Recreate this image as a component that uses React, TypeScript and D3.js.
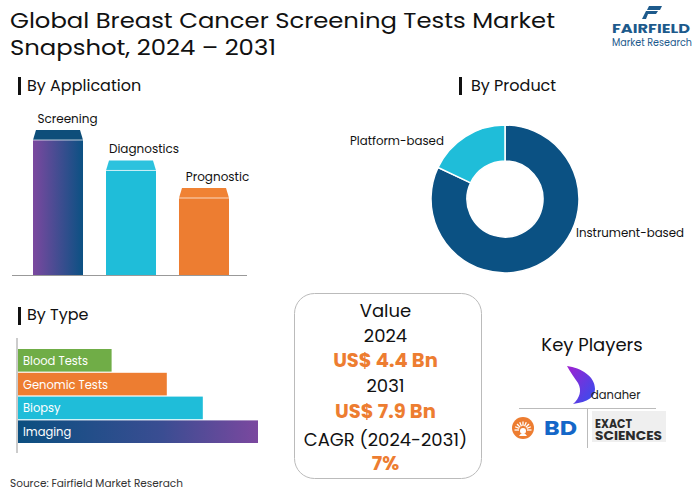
import React from "react";
import * as d3 from "d3";

const appCategories = ["Screening", "Diagnostics", "Prognostic"];
const appValues = [100, 79, 60];
const productCategories = ["Instrument-based", "Platform-based"];
const productValues = [82, 18];
const typeCategories = ["Blood Tests", "Genomic Tests", "Biopsy", "Imaging"];
const typeValues = [39, 62, 77, 100];
const valueLines = ["Value", "2024", "US$ 4.4 Bn", "2031", "US$ 7.9 Bn", "CAGR (2024-2031)", "7%"];

const FONT = "Poppins, 'Open Sans', Lato, sans-serif";
const ORANGE = "#ed7d31";
const CYAN = "#1fbdd9";
const DARK = "#0b5183";
const PURPLE = "#7b489f";
const GREEN = "#70ad47";

export default function App() {
  // Application bars
  const xApp = d3.scaleBand<string>().domain(appCategories).range([33, 229]).paddingInner(0.315).paddingOuter(0);
  const yApp = d3.scaleLinear().domain([0, 100]).range([275, 130]);
  const appFills = ["url(#gradScreen)", CYAN, ORANGE];
  const appCaps = ["#0d4e7a", "#2cc2de", "#f08234"];
  const appLabelShift = [9.5, 13, 13.5];

  // Donut
  const pie = d3.pie<number>().sort(null).value((d) => d);
  const arcs = pie(productValues);
  const arcGen = d3.arc<d3.PieArcDatum<number>>().innerRadius(38).outerRadius(74);
  const cx = 505, cy = 199;
  const donutColors = ["#0b5183", CYAN];

  // Type bars
  const xType = d3.scaleLinear().domain([0, 100]).range([18, 258]);
  const yType = d3.scaleBand<string>().domain(typeCategories).range([349, 443]).paddingInner(0.05);
  const typeFills = [GREEN, ORANGE, CYAN, "url(#gradImaging)"];

  const valueY = [317, 342, 367, 392, 418, 446, 470];
  const valueStyles = [
    { size: 18, weight: 400, color: "#111" },
    { size: 18, weight: 400, color: "#111" },
    { size: 19.5, weight: 700, color: ORANGE },
    { size: 18, weight: 400, color: "#111" },
    { size: 19.5, weight: 700, color: ORANGE },
    { size: 18, weight: 400, color: "#111" },
    { size: 19.5, weight: 700, color: ORANGE },
  ];

  return (
    <div style={{ position: "absolute", left: 0, top: 0 }}>
      <svg width={700} height={491} style={{ display: "block", fontFamily: FONT }}>
        <defs>
          <linearGradient id="gradScreen" x1="0" x2="1" y1="0" y2="0">
            <stop offset="0%" stopColor={PURPLE} />
            <stop offset="100%" stopColor={DARK} />
          </linearGradient>
          <linearGradient id="gradImaging" x1="0" x2="1" y1="0" y2="0">
            <stop offset="0%" stopColor="#0b4f80" />
            <stop offset="60%" stopColor="#3a4d92" />
            <stop offset="100%" stopColor={PURPLE} />
          </linearGradient>
          <linearGradient id="gradDanaher" x1="0" x2="1" y1="0" y2="1">
            <stop offset="0%" stopColor="#a020d0" />
            <stop offset="100%" stopColor="#3050f0" />
          </linearGradient>
        </defs>
        <rect width={700} height={491} fill="#fff" />

        {/* Title */}
        <text x={10} y={28} fontSize={21.5} fill="#111" textLength={545} lengthAdjust="spacingAndGlyphs">Global Breast Cancer Screening Tests Market</text>
        <text x={10} y={55} fontSize={21.5} fill="#111" textLength={266} lengthAdjust="spacingAndGlyphs">Snapshot, 2024 – 2031</text>

        {/* Logo */}
        <g fill="#1d5a8c">
          <path d="M649,6 L662,6 L660,10 L647,10 Z" />
          <path d="M646,11 L658,11 L656,14 L648,14 L646,19 L642,19 Z" />
        </g>
        <text x={612} y={33} fontSize={11.5} fontWeight={700} fill="#1d5a8c" textLength={78} lengthAdjust="spacingAndGlyphs">FAIRFIELD</text>
        <text x={612} y={46} fontSize={10} fill="#1d5a8c" textLength={80} lengthAdjust="spacingAndGlyphs">Market Research</text>

        {/* By Application */}
        <rect x={18} y={77} width={3} height={18} fill="#111" />
        <text x={27} y={91} fontSize={16} fill="#111">By Application</text>
        {appCategories.map((c, i) => {
          const x = xApp(c)!;
          const w = xApp.bandwidth();
          const top = yApp(appValues[i]);
          const capH = 10;
          return (
            <g key={c}>
              <rect x={x} y={top + capH} width={w} height={275 - top - capH} fill={appFills[i]} />
              <path d={`M${x + 3},${top} L${x + w - 3},${top} L${x + w},${top + capH} L${x},${top + capH} Z`} fill={appCaps[i]} />
              <line x1={x} x2={x + w} y1={top + capH} y2={top + capH} stroke="#fff" strokeOpacity={0.7} strokeWidth={1} />
              <text x={x + w / 2 + appLabelShift[i]} y={top - 7} fontSize={12} fill="#111" textAnchor="middle">{c}</text>
            </g>
          );
        })}
        <line x1={12} x2={247} y1={275.5} y2={275.5} stroke="#999" strokeWidth={1} />

        {/* By Product */}
        <rect x={459} y={77} width={3} height={18} fill="#111" />
        <text x={471} y={91} fontSize={16} fill="#111">By Product</text>
        <g transform={`translate(${cx},${cy})`}>
          {arcs.map((a, i) => (
            <path key={i} d={arcGen(a)!} fill={donutColors[i]} stroke="#fff" strokeWidth={1.5} />
          ))}
        </g>
        <text x={576} y={237} fontSize={11.8} fill="#111">{productCategories[0]}</text>
        <text x={350} y={145} fontSize={11.8} fill="#111">{productCategories[1]}</text>

        {/* By Type */}
        <rect x={18} y={307} width={3} height={18} fill="#111" />
        <text x={27} y={320} fontSize={16} fill="#111">By Type</text>
        {typeCategories.map((c, i) => (
          <g key={c}>
            <rect x={xType(0)} y={yType(c)!} width={xType(typeValues[i]) - xType(0)} height={yType.bandwidth()} fill={typeFills[i]} />
            <text x={23} y={yType(c)! + yType.bandwidth() / 2 + 4.5} fontSize={11.5} fill="#fff">{c}</text>
          </g>
        ))}
        <line x1={17} x2={17} y1={338} y2={453} stroke="#bbb" strokeWidth={1.5} />

        {/* Value box */}
        <rect x={294.5} y={293.5} width={187} height={185} rx={20} ry={20} fill="#fff" stroke="#bbb" strokeWidth={1} />
        {valueLines.map((t, i) => (
          <text key={i} x={385.5} y={valueY[i]} fontSize={valueStyles[i].size} fontWeight={valueStyles[i].weight} fill={valueStyles[i].color} textAnchor="middle">{t}</text>
        ))}

        {/* Key Players */}
        <text x={592} y={351} fontSize={18} fill="#111" textAnchor="middle">Key Players</text>
        <path d="M567,366 C581,368 595,376 595,389 C595,397 588,402 573,404 C580,398 582,390 578,383 C574,377 570,372 567,366 Z" fill="url(#gradDanaher)" />
        <text x={591} y={399} fontSize={11.5} fill="#222">danaher</text>
        <line x1={519} x2={656} y1={408.5} y2={408.5} stroke="#bbb" />
        <line x1={587.5} x2={587.5} y1={408} y2={448} stroke="#bbb" />
        {/* BD */}
        <g transform="translate(523,428)">
          <circle r={11} fill={ORANGE} />
          {d3.range(9).map((k) => {
            const a = Math.PI + (k / 8) * Math.PI;
            return <line key={k} x1={Math.cos(a) * 4} y1={2 + Math.sin(a) * 4} x2={Math.cos(a) * 8.5} y2={2 + Math.sin(a) * 8.5} stroke="#fff" strokeWidth={1.3} />;
          })}
          <path d="M-4,8 A4.5,4.5 0 0 1 4,8 Z" fill="#fff" />
          <circle r={3} cy={3} fill="#fff" />
        </g>
        <text x={544} y={435} fontSize={20} fontWeight={700} fill="#1467c8" textLength={33} lengthAdjust="spacingAndGlyphs">BD</text>
        {/* Exact Sciences */}
        <rect x={592} y={411} width={74} height={31} fill="#efefef" />
        <text x={595} y={428} fontSize={12} fontWeight={700} fill="#2b2b2b" textLength={37} lengthAdjust="spacingAndGlyphs">EXACT</text>
        <text x={595} y={440} fontSize={12} fontWeight={700} fill="#2b2b2b" textLength={67} lengthAdjust="spacingAndGlyphs">SCIENCES</text>

        {/* Source */}
        <text x={10} y={487} fontSize={10.5} fill="#333">Source: Fairfield Market Reserach</text>
      </svg>
    </div>
  );
}
